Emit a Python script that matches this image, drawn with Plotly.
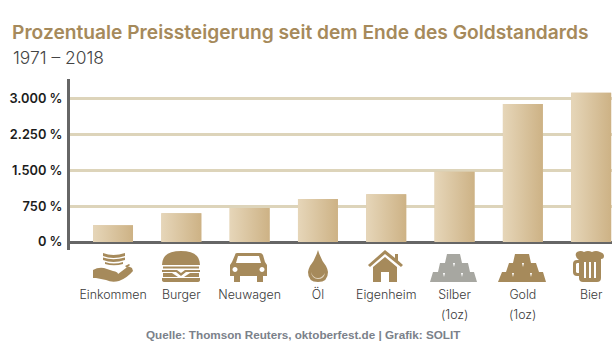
import re
import plotly.graph_objects as go

categories = ["Einkommen", "Burger", "Neuwagen", "Öl", "Eigenheim", "Silber", "Gold", "Bier"]
sublabels = ["", "", "", "", "", "(1oz)", "(1oz)", ""]
values = [350, 600, 710, 900, 1000, 1470, 2885, 3120]
tick_values = [0, 750, 1500, 2250, 3000]
tick_labels = ["0 %", "750 %", "1.500 %", "2.250 %", "3.000 %"]

W, H = 616, 355
TAN, GREY = "#a68a5b", "#a7a7a1"
BAR_W = 0.585
positions = list(range(len(categories)))
LABEL_FONT = dict(family="Inter", size=12.4, color="#3a3a3a", weight=300)

fig = go.Figure()
fig.add_trace(go.Bar(x=positions, y=values, width=BAR_W, marker=dict(color="#d9c4a0", line_width=0),
                     hoverinfo="skip", showlegend=False))
for p, v in zip(positions, values):
    a, b = p - BAR_W / 2, p + BAR_W / 2
    fig.add_trace(go.Scatter(
        x=[a, b, b, a, a], y=[0, 0, v, v, 0], mode="lines", line=dict(width=0), fill="toself",
        fillgradient=dict(type="horizontal", colorscale=[[0, "#e6d6b9"], [1, "#cdb285"]]),
        showlegend=False, hoverinfo="skip"))

icons = [
    # Einkommen: stacked notes and open hand
    ("M103,253 Q113,257 125,253 L125,256 Q113,260 103,256 Z", TAN),
    ("M103,257.5 Q113,261 125,257.5 L125,260 Q113,264 103,260 Z", TAN),
    ("M105,262 Q114,265 123,262 L123,264 Q114,266.5 105,264 Z", TAN),
    ("M93,270 Q98,267 104,268 L113,271 Q118,272 118,274 L126,268 Q129,266 130,267 L132,268 L133,271 "
     "Q127,278 119,281 Q112,283 106,280 L96,278 L93,278 Z", TAN),
    ("M125,266 L129,264 L130,265 L127,268 Z", TAN),
    # Burger
    ("M162,265 Q162,251 181,251 Q200,251 200,265 Z", TAN),
    ("M163,266.5 L199,266.5 L199,268.5 L163,268.5 Z", TAN),
    ("M162,270 L177,270 L181,273 L185,270 L200,270 L200,272 L186,272 L181,276 L176,272 L162,272 Z", TAN),
    ("M163,273 L172,273 L178,277 L163,277 Z", TAN),
    ("M190,273 L199,273 L199,277 L184,277 Z", TAN),
    ("M162,278 L200,278 L200,280 Q200,282 197,282 L165,282 Q162,282 162,280 Z", TAN),
    # Neuwagen
    ("M237,253 L260,253 Q262,253 263,255 L265,262 L267,265 L267,276 L263,276 L263,282 L257,282 L257,276 "
     "L240,276 L240,282 L234,282 L234,276 L230,276 L230,265 L232,262 L235,255 Q235,253 237,253 Z "
     "M238,256 L236,263 L261,263 L259,256 Z", TAN),
    # Öl
    ("M318,250 Q321,260 326,266 Q328,270 328,272 Q328,282 318,282 Q308,282 308,272 Q308,270 310,266 Q315,260 318,250 Z", TAN),
    ("M311,272 Q312,279 318,279 Q324,279 325,273 Q322,278 318,278 Q313,278 311,272 Z", "#e3d6bf"),
    # Eigenheim
    ("M385,250 L395,258 L395,254 L398,254 L398,260.5 L403,265 L401,267 L385,254 L370,267 L368,265 Z", TAN),
    ("M385,257 L397,267 L397,282 L389,282 L389,272 L381,272 L381,282 L373,282 L373,267 Z", TAN),
    # Silber
    ("M447,254 L460,254 L462,263 L468,263 L470,272 L474,272 L477,282 L430,282 L433,272 L438,272 L440,263 L445,263 Z", GREY),
    ("M453,263 L455,263 L454,267 Z M443,273 L445,273 L444,277 Z M461,273 L463,273 L462,277 Z", "#ffffff"),
    # Gold
    ("M515,254 L529,254 L531,263 L536,263 L539,272 L543,272 L546,282 L498,282 L502,272 L506,272 L509,263 L513,263 Z", TAN),
    ("M522,263 L524,263 L523,267 Z M512,273 L514,273 L513,277 Z M530,273 L532,273 L531,277 Z", "#ffffff"),
    # Bier
    ("M577,252 Q581,250 584,252 Q588,250 592,252 Q596,250 600,252 Q604,253 604,256 Q604,259 601,259 "
     "L601,278 Q601,282 597,282 L583,282 Q579,282 579,278 L579,276 L577,276 Q573,276 573,272 L573,264 "
     "Q573,260 577,260 L579,260 Q576,258 576,256 Q575,254 577,252 Z "
     "M577,263 L576,264 L576,272 L577,273 L579,273 L579,263 Z", TAN),
    ("M584,262 L586,262 L586,278 L584,278 Z M589,262 L591,262 L591,278 L589,278 Z M594,262 L596,262 L596,278 L594,278 Z", "#ffffff"),
]


def to_paper(path):
    def repl(m):
        return f"{float(m[1]) / W:.5f},{1 - float(m[2]) / H:.5f}"
    return re.sub(r"(-?[\d.]+),(-?[\d.]+)", repl, path)


def circle(cx, cy, r):
    k = 0.5523 * r
    return (f"M{cx - r},{cy} C{cx - r},{cy - k} {cx - k},{cy - r} {cx},{cy - r} "
            f"C{cx + k},{cy - r} {cx + r},{cy - k} {cx + r},{cy} "
            f"C{cx + r},{cy + k} {cx + k},{cy + r} {cx},{cy + r} "
            f"C{cx - k},{cy + r} {cx - r},{cy + k} {cx - r},{cy} Z")


shapes = []
for path, color in icons:
    shapes.append(dict(type="path", xref="paper", yref="paper", path=to_paper(path),
                       fillcolor=color, line_width=0, layer="above"))
for cx in (235, 262):
    shapes.append(dict(type="path", xref="paper", yref="paper", path=to_paper(circle(cx, 269.5, 2.5)),
                       fillcolor="#ffffff", line_width=0, layer="above"))

sub_annotations = [
    dict(text=s, x=p, xref="x", y=1 - 314 / H, yref="paper", xanchor="center", yanchor="middle",
         showarrow=False, font=LABEL_FONT)
    for p, s in zip(positions, sublabels) if s
]

fig.update_layout(
    width=W, height=H, autosize=False, margin=dict(l=0, r=0, t=0, b=0),
    paper_bgcolor="white", plot_bgcolor="white", barmode="overlay", showlegend=False,
    title=dict(text="Prozentuale Preissteigerung seit dem Ende des Goldstandards",
               x=12 / W, xanchor="left", xref="paper", y=1 - 32 / H, yanchor="middle", yref="paper",
               font=dict(family="Inter", size=19.2, color=TAN, weight=600)),
    xaxis=dict(domain=[70 / W, 612 / W], range=[-0.63, 7.305], tickmode="array", tickvals=positions,
               ticktext=categories, ticks="", showgrid=False, zeroline=False, showline=False,
               ticklabelstandoff=36, tickfont=LABEL_FONT, fixedrange=True),
    yaxis=dict(domain=[1 - 250 / H, 1 - 79 / H], range=[-167, 3408], tickmode="array", tickvals=tick_values,
               ticktext=tick_labels, ticks="", showgrid=True, gridcolor="#ddd4ba", gridwidth=3,
               zeroline=True, zerolinecolor="#666666", zerolinewidth=3,
               showline=True, linecolor="#666666", linewidth=3, ticklabelstandoff=2,
               tickfont=dict(family="Inter", size=12.8, color="#1c1c1c", weight=600), fixedrange=True),
    shapes=shapes,
    annotations=[
        dict(text="1971 – 2018", x=11 / W, y=1 - 57 / H, xref="paper", yref="paper", xanchor="left",
             yanchor="middle", showarrow=False, font=dict(family="Inter", size=17.4, color="#444444", weight=300)),
        dict(text="Quelle: Thomson Reuters, oktoberfest.de | Grafik: SOLIT", x=303 / W, y=1 - 334.5 / H,
             xref="paper", yref="paper", xanchor="center", yanchor="middle", showarrow=False,
             font=dict(family="Liberation Sans", size=11.7, color="#7b818a", weight=700)),
    ] + sub_annotations,
)

fig.write_html("out.html", config=dict(displayModeBar=False),
               post_script="document.body.style.margin='0';document.documentElement.style.overflow='hidden';")
